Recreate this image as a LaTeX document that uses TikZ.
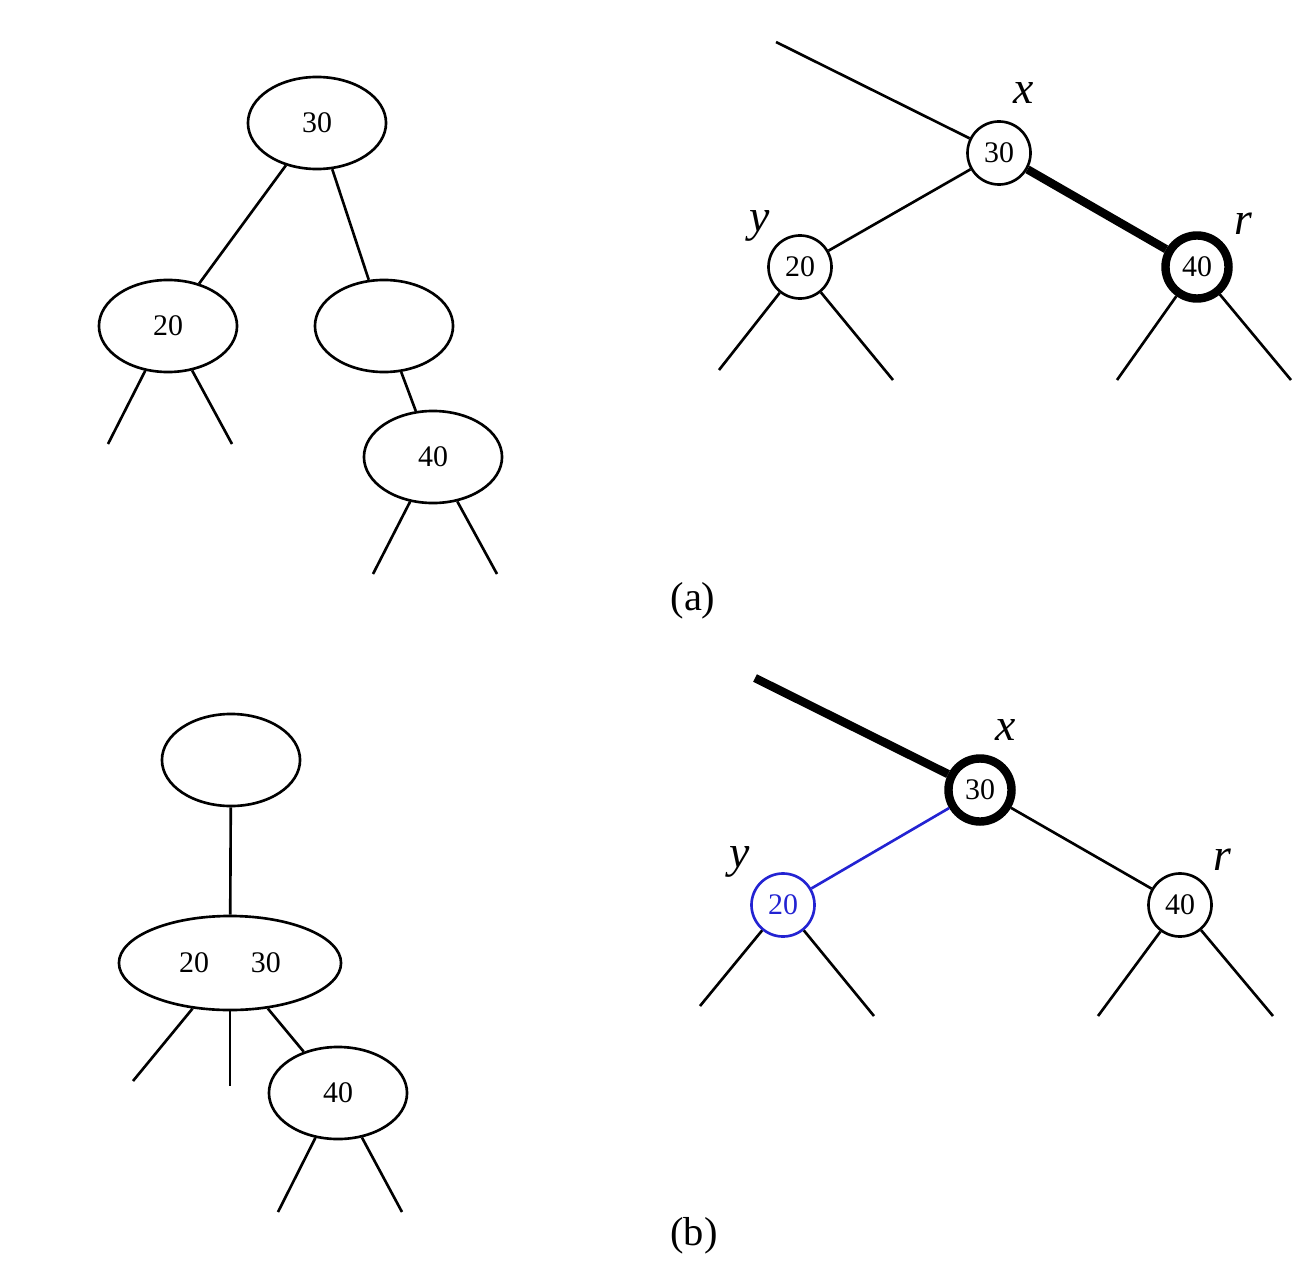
\documentclass[tikz,border=0pt]{standalone}
\usepackage{fontspec}
\setmainfont{Liberation Serif}
\usepackage{tikz}
\usepackage{xcolor}
\usetikzlibrary{positioning, shapes.geometric}
\definecolor{myBlue}{RGB}{35,35,210}
\begin{document}
\begin{tikzpicture}[
  x=0.01cm, y=-0.01cm, line width=0.75pt,
  knot/.style={draw, ellipse, minimum width=1.38cm, minimum height=0.92cm,
               inner sep=0pt, font=\fontsize{8.5}{10}\selectfont},
  disc/.style={draw, circle, minimum size=0.63cm, inner sep=0pt,
               font=\fontsize{8.5}{10}\selectfont},
  heavy/.style={line width=2.4pt},
  tag/.style={font=\fontsize{13}{15}\selectfont\itshape},
  caption/.style={font=\fontsize{11.5}{14}\selectfont},
]
  \useasboundingbox (0,0) rectangle (1306,1282);

  \node[knot] (a30) at (317,123) {30};
  \node[knot] (a20) at (168,326) {20};
  \node[knot] (aE) at (384,326) {};
  \node[knot] (a40) at (433,457) {40};
  \coordinate (l1) at (108,444);
  \coordinate (l2) at (232,444);
  \coordinate (l3) at (373,574);
  \coordinate (l4) at (497,574);
  \draw (a30) -- (a20);
  \draw (a30) -- (aE);
  \draw (aE) -- (a40);
  \draw (a20) -- (l1);
  \draw (a20) -- (l2);
  \draw (a40) -- (l3);
  \draw (a40) -- (l4);

  \node[disc] (x1) at (999,153) {30};
  \node[disc] (y1) at (800,267) {20};
  \node[disc, heavy] (r1) at (1197,267) {40};
  \node[tag] (tx1) at (1024,93) {x};
  \node[tag] (ty1) at (760,226) {y};
  \node[tag] (tr1) at (1243,224) {r};
  \coordinate (p1) at (776,42);
  \coordinate (m1) at (719,370);
  \coordinate (m2) at (893,380);
  \coordinate (m3) at (1117,380);
  \coordinate (m4) at (1291,380);
  \draw (p1) -- (x1);
  \draw (x1) -- (y1);
  \draw[heavy] (x1) -- (r1);
  \draw (y1) -- (m1);
  \draw (y1) -- (m2);
  \draw (r1) -- (m3);
  \draw (r1) -- (m4);
  \node[caption] (capA) at (693,601) {(a)};

  \node[knot] (bE) at (231,760) {};
  \node[knot, minimum width=2.22cm, minimum height=0.94cm] (b23) at (230,963) {20\hspace{1.4em}30};
  \node[knot] (b40) at (338,1093) {40};
  \coordinate (k1) at (133,1081);
  \coordinate (k2) at (230,1086);
  \coordinate (k3) at (278,1212);
  \coordinate (k4) at (402,1212);
  \draw (bE) -- (b23);
  \draw (b23) -- (k1);
  \draw (b23.south) -- (k2);
  \draw (b23) -- (b40);
  \draw (b40) -- (k3);
  \draw (b40) -- (k4);

  \node[disc, heavy] (x2) at (980,790) {30};
  \node[disc, draw=myBlue, text=myBlue] (y2) at (783,905) {20};
  \node[disc] (r2) at (1180,905) {40};
  \node[tag] (tx2) at (1006,730) {x};
  \node[tag] (ty2) at (740,862) {y};
  \node[tag] (tr2) at (1222,860) {r};
  \coordinate (p2) at (755,678);
  \coordinate (n1) at (700,1006);
  \coordinate (n2) at (874,1016);
  \coordinate (n3) at (1098,1016);
  \coordinate (n4) at (1273,1016);
  \draw[heavy] (p2) -- (x2);
  \draw[myBlue] (x2) -- (y2);
  \draw (x2) -- (r2);
  \draw (y2) -- (n1);
  \draw (y2) -- (n2);
  \draw (r2) -- (n3);
  \draw (r2) -- (n4);
  \node[caption] (capB) at (694,1236) {(b)};
\end{tikzpicture}
\end{document}
